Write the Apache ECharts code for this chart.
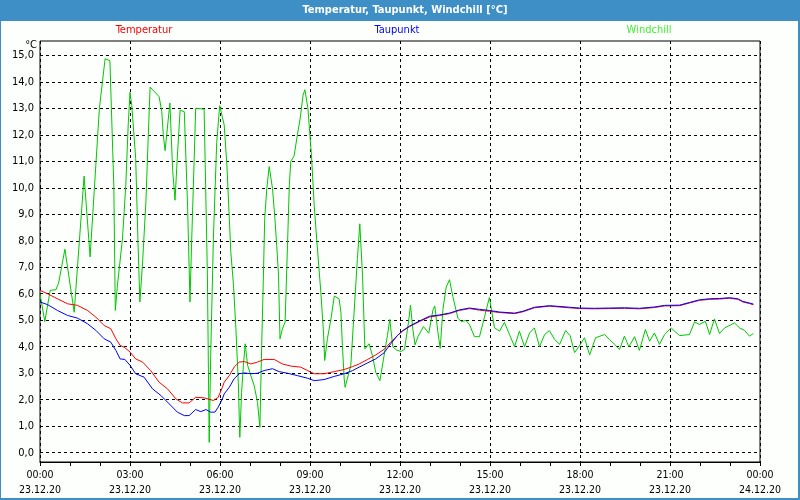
<!DOCTYPE html>
<html>
<head>
<meta charset="utf-8">
<script src="https://cdn.jsdelivr.net/npm/echarts@6/dist/echarts.min.js"></script>
<style>
html,body{margin:0;padding:0;background:#fdfffd;}
#chart{width:800px;height:500px;}
</style>
</head>
<body>
<div id="chart"></div>
<script>
// ---- data (hours since 23.12.20 00:00) ----
const titleText = 'Temperatur, Taupunkt, Windchill [°C]';
const seriesNames = ['Temperatur', 'Taupunkt', 'Windchill'];
const xTickTimes = ['00:00','03:00','06:00','09:00','12:00','15:00','18:00','21:00','00:00'];
const xTickDates = ['23.12.20','23.12.20','23.12.20','23.12.20','23.12.20','23.12.20','23.12.20','23.12.20','24.12.20'];
const yUnit = '°C';

const tempHours = [0,0.25,0.58,0.92,1.25,1.58,1.86,2.14,2.36,2.53,2.67,2.81,3.0,3.19,3.42,3.69,3.97,4.25,4.53,4.75,4.97,5.19,5.47,5.78,5.94,6.08,6.14,6.31,6.47,6.64,6.81,7.03,7.25,7.47,7.81,8.08,8.36,8.69,8.92,9.14,9.47,9.81,10.14,10.42,10.64,10.92,11.19,11.47,11.69,11.92,12.08,12.32,12.65,12.98,13.32,13.65,13.98,14.32,14.65,14.98,15.32,15.82,16.1,16.48,16.98,17.65,17.98,18.48,18.98,19.48,19.98,20.48,20.82,21.32,21.65,21.98,22.32,22.65,22.98,23.26,23.43,23.65,23.78];
const tempValues = [6.13,6.0,5.81,5.62,5.56,5.37,5.12,4.8,4.68,4.3,4.05,3.98,3.8,3.54,3.42,3.1,2.66,2.41,2.03,1.88,1.88,2.09,2.07,1.97,2.09,2.47,2.66,2.91,3.23,3.42,3.44,3.35,3.42,3.52,3.52,3.35,3.27,3.23,3.1,2.98,2.98,3.06,3.14,3.25,3.35,3.52,3.69,3.9,4.17,4.43,4.58,4.76,4.95,5.12,5.18,5.25,5.37,5.44,5.38,5.34,5.29,5.25,5.32,5.47,5.53,5.47,5.44,5.43,5.44,5.45,5.43,5.48,5.54,5.55,5.65,5.75,5.79,5.8,5.83,5.79,5.69,5.63,5.58];

const dewHours = [0,0.25,0.58,0.92,1.25,1.58,1.86,2.14,2.36,2.53,2.67,2.83,3.0,3.19,3.47,3.75,4.03,4.31,4.58,4.81,4.97,5.19,5.36,5.53,5.69,5.83,5.94,6.08,6.14,6.31,6.47,6.64,6.81,7.03,7.25,7.47,7.75,7.97,8.25,8.58,8.92,9.14,9.47,9.81,10.14,10.42,10.64,10.92,11.19,11.47,11.69,11.92,12.08,12.32,12.65,12.98,13.32,13.65,13.98,14.32,14.65,14.98,15.32,15.82,16.1,16.48,16.98,17.65,17.98,18.48,18.98,19.48,19.98,20.48,20.82,21.32,21.65,21.98,22.32,22.65,22.98,23.26,23.43,23.65,23.78];
const dewValues = [5.69,5.59,5.37,5.18,5.08,4.87,4.62,4.3,4.17,3.86,3.54,3.52,3.3,2.98,2.85,2.41,2.16,1.84,1.53,1.4,1.4,1.63,1.55,1.63,1.53,1.53,1.72,2.03,2.22,2.47,2.79,2.98,3.01,2.98,3.0,3.1,3.17,3.06,3.0,2.91,2.81,2.72,2.76,2.88,2.98,3.1,3.23,3.39,3.54,3.77,4.11,4.43,4.6,4.78,4.97,5.15,5.2,5.27,5.39,5.46,5.41,5.37,5.31,5.27,5.34,5.49,5.55,5.49,5.46,5.45,5.46,5.47,5.45,5.5,5.56,5.57,5.67,5.77,5.81,5.82,5.85,5.81,5.71,5.65,5.61];

const windHours = [0,0.16,0.34,0.53,0.62,0.83,1.14,1.3,1.47,1.67,1.98,2.17,2.33,2.46,2.51,2.58,2.75,2.86,2.94,3.0,3.06,3.19,3.27,3.33,3.42,3.53,3.61,3.67,3.97,4.06,4.11,4.17,4.33,4.42,4.5,4.58,4.67,4.81,4.92,5.0,5.05,5.14,5.19,5.47,5.58,5.64,5.69,5.78,5.89,5.99,6.14,6.23,6.31,6.36,6.45,6.53,6.61,6.66,6.72,6.78,6.84,6.92,7.03,7.14,7.25,7.33,7.39,7.45,7.49,7.56,7.64,7.75,7.83,7.89,7.95,8.0,8.08,8.17,8.25,8.31,8.36,8.47,8.58,8.67,8.77,8.83,8.93,9.05,9.14,9.23,9.36,9.45,9.49,9.58,9.7,9.81,9.97,10.03,10.08,10.14,10.17,10.27,10.36,10.47,10.58,10.66,10.75,10.83,10.97,11.08,11.19,11.33,11.47,11.58,11.66,11.76,11.88,12.04,12.15,12.28,12.35,12.43,12.5,12.6,12.78,12.96,13.1,13.16,13.26,13.34,13.43,13.54,13.65,13.76,13.93,14.04,14.2,14.32,14.48,14.65,14.82,14.98,15.15,15.32,15.48,15.65,15.82,15.98,16.15,16.32,16.48,16.65,16.82,16.98,17.15,17.32,17.52,17.67,17.82,17.98,18.15,18.32,18.52,18.82,18.98,19.15,19.32,19.48,19.63,19.82,19.98,20.18,20.32,20.48,20.65,20.82,21.04,21.15,21.32,21.65,21.82,21.98,22.18,22.32,22.48,22.65,22.82,23.15,23.32,23.48,23.65,23.78];
const windValues = [6.0,4.95,6.13,6.15,6.4,7.68,5.3,7.8,10.44,7.39,13.0,14.87,14.8,10.1,5.37,6.3,8.1,10.1,12.37,13.6,13.1,11.1,7.8,5.69,7.2,9.47,12.0,13.8,13.44,12.87,12.0,11.4,13.2,10.7,9.53,11.2,12.93,12.87,9.3,5.69,7.8,11.1,13.0,12.97,6.7,0.39,3.67,8.1,11.7,13.1,12.37,10.86,8.84,7.58,6.32,4.68,2.66,0.58,2.28,3.29,4.11,3.3,2.9,2.53,1.9,0.96,4.05,6.82,8.84,9.97,10.8,9.97,8.84,7.83,6.7,4.3,4.68,4.93,7.83,10.1,11.0,11.2,12.0,12.6,13.5,13.7,13.0,11.2,9.34,7.96,6.07,4.55,3.48,4.3,5.06,5.91,5.81,5.3,4.05,2.79,2.47,2.9,3.3,5.3,7.33,8.64,6.7,3.92,4.11,3.67,3.04,2.72,3.67,4.42,5.03,4.0,3.88,3.82,3.9,4.9,5.57,4.64,4.07,4.38,4.76,4.51,5.4,5.54,4.57,3.94,5.4,6.25,6.53,5.9,5.08,4.95,4.99,4.83,4.38,4.38,5.14,5.86,4.71,4.59,4.92,4.46,4.0,4.59,4.0,4.52,4.71,4.0,4.46,4.61,4.28,4.09,4.61,4.42,3.78,4.03,4.34,3.69,4.34,4.46,4.28,4.09,3.9,4.4,4.0,4.38,3.86,4.65,4.21,4.52,4.09,4.46,4.71,4.59,4.42,4.46,4.94,4.84,4.96,4.46,5.05,4.5,4.71,4.9,4.71,4.62,4.4,4.5];

function zip(xs, ys) { return xs.map((x, i) => [x, ys[i]]); }

const FONT = "'Liberation Sans Narrow', 'DejaVu Sans Condensed', 'Liberation Sans', sans-serif";
const FRAME = '#3d8fc6';

const chart = echarts.init(document.getElementById('chart'), null, {renderer: 'canvas'});
const dashed = {color: '#000', width: 1, type: [3, 3]};

chart.setOption({
  animation: false,
  backgroundColor: '#fdfffd',
  textStyle: {fontFamily: FONT},
  graphic: [
    {type: 'rect', shape: {x: 0, y: 0, width: 800, height: 21}, style: {fill: FRAME}, silent: true},
    {type: 'rect', shape: {x: 0, y: 0, width: 1, height: 500}, style: {fill: FRAME}, silent: true},
    {type: 'rect', shape: {x: 798, y: 0, width: 2, height: 500}, style: {fill: FRAME}, silent: true},
    {type: 'rect', shape: {x: 0, y: 498, width: 800, height: 2}, style: {fill: FRAME}, silent: true},
    {type: 'text', x: 405, y: 10, style: {text: titleText, fill: '#fff', font: 'bold 11px ' + FONT, align: 'center', verticalAlign: 'middle'}, silent: true},
    {type: 'text', x: 144, y: 30, style: {text: seriesNames[0], fill: '#ff0000', font: '11px ' + FONT, align: 'center', verticalAlign: 'middle'}, silent: true},
    {type: 'text', x: 397, y: 30, style: {text: seriesNames[1], fill: '#0000ff', font: '11px ' + FONT, align: 'center', verticalAlign: 'middle'}, silent: true},
    {type: 'text', x: 649, y: 30, style: {text: seriesNames[2], fill: '#44ee33', font: '11px ' + FONT, align: 'center', verticalAlign: 'middle'}, silent: true},
    {type: 'text', x: 37, y: 45, style: {text: yUnit, fill: '#000', font: '11px ' + FONT, align: 'right', verticalAlign: 'middle'}, silent: true}
  ],
  grid: [
    {left: 40, right: 40, top: 41, bottom: 38, show: true, borderColor: '#000', borderWidth: 1, backgroundColor: 'transparent'},
    {left: 40, right: 40, top: 55.3, bottom: 47.3, show: false}
  ],
  xAxis: [
    {
      gridIndex: 0, type: 'value', min: 0, max: 24, interval: 3,
      axisLine: {show: true, lineStyle: {color: '#000', width: 1}},
      axisTick: {show: true, length: 4, lineStyle: {color: '#000'}},
      minorTick: {show: true, splitNumber: 3, length: 4, lineStyle: {color: '#000'}},
      splitLine: {show: true, lineStyle: dashed},
      axisLabel: {
        color: '#000', fontSize: 10.5, lineHeight: 15, margin: 6, fontFamily: FONT,
        formatter: function (v) { const i = Math.round(v / 3); return xTickTimes[i] + '\n' + xTickDates[i]; }
      }
    },
    {gridIndex: 1, type: 'value', min: 0, max: 24, show: false}
  ],
  yAxis: [
    {gridIndex: 0, type: 'value', min: 0, max: 1, show: false, splitLine: {show: false}},
    {
      gridIndex: 1, type: 'value', min: 0, max: 15, interval: 1,
      axisLine: {show: false}, axisTick: {show: false},
      splitLine: {show: true, lineStyle: dashed},
      axisLabel: {
        color: '#000', fontSize: 11, margin: 6, fontFamily: FONT,
        formatter: function (v) { return v.toFixed(1).replace('.', ','); }
      }
    }
  ],
  series: [
    {name: seriesNames[2], type: 'line', xAxisIndex: 1, yAxisIndex: 1, data: zip(windHours, windValues), showSymbol: false, lineStyle: {color: '#00c800', width: 1}, itemStyle: {color: '#00c800'}, silent: true},
    {name: seriesNames[0], type: 'line', xAxisIndex: 1, yAxisIndex: 1, data: zip(tempHours, tempValues), showSymbol: false, lineStyle: {color: '#ff0000', width: 1}, itemStyle: {color: '#ff0000'}, silent: true},
    {name: seriesNames[1], type: 'line', xAxisIndex: 1, yAxisIndex: 1, data: zip(dewHours, dewValues), showSymbol: false, lineStyle: {color: '#0000ff', width: 1}, itemStyle: {color: '#0000ff'}, silent: true}
  ]
});
</script>
</body>
</html>
